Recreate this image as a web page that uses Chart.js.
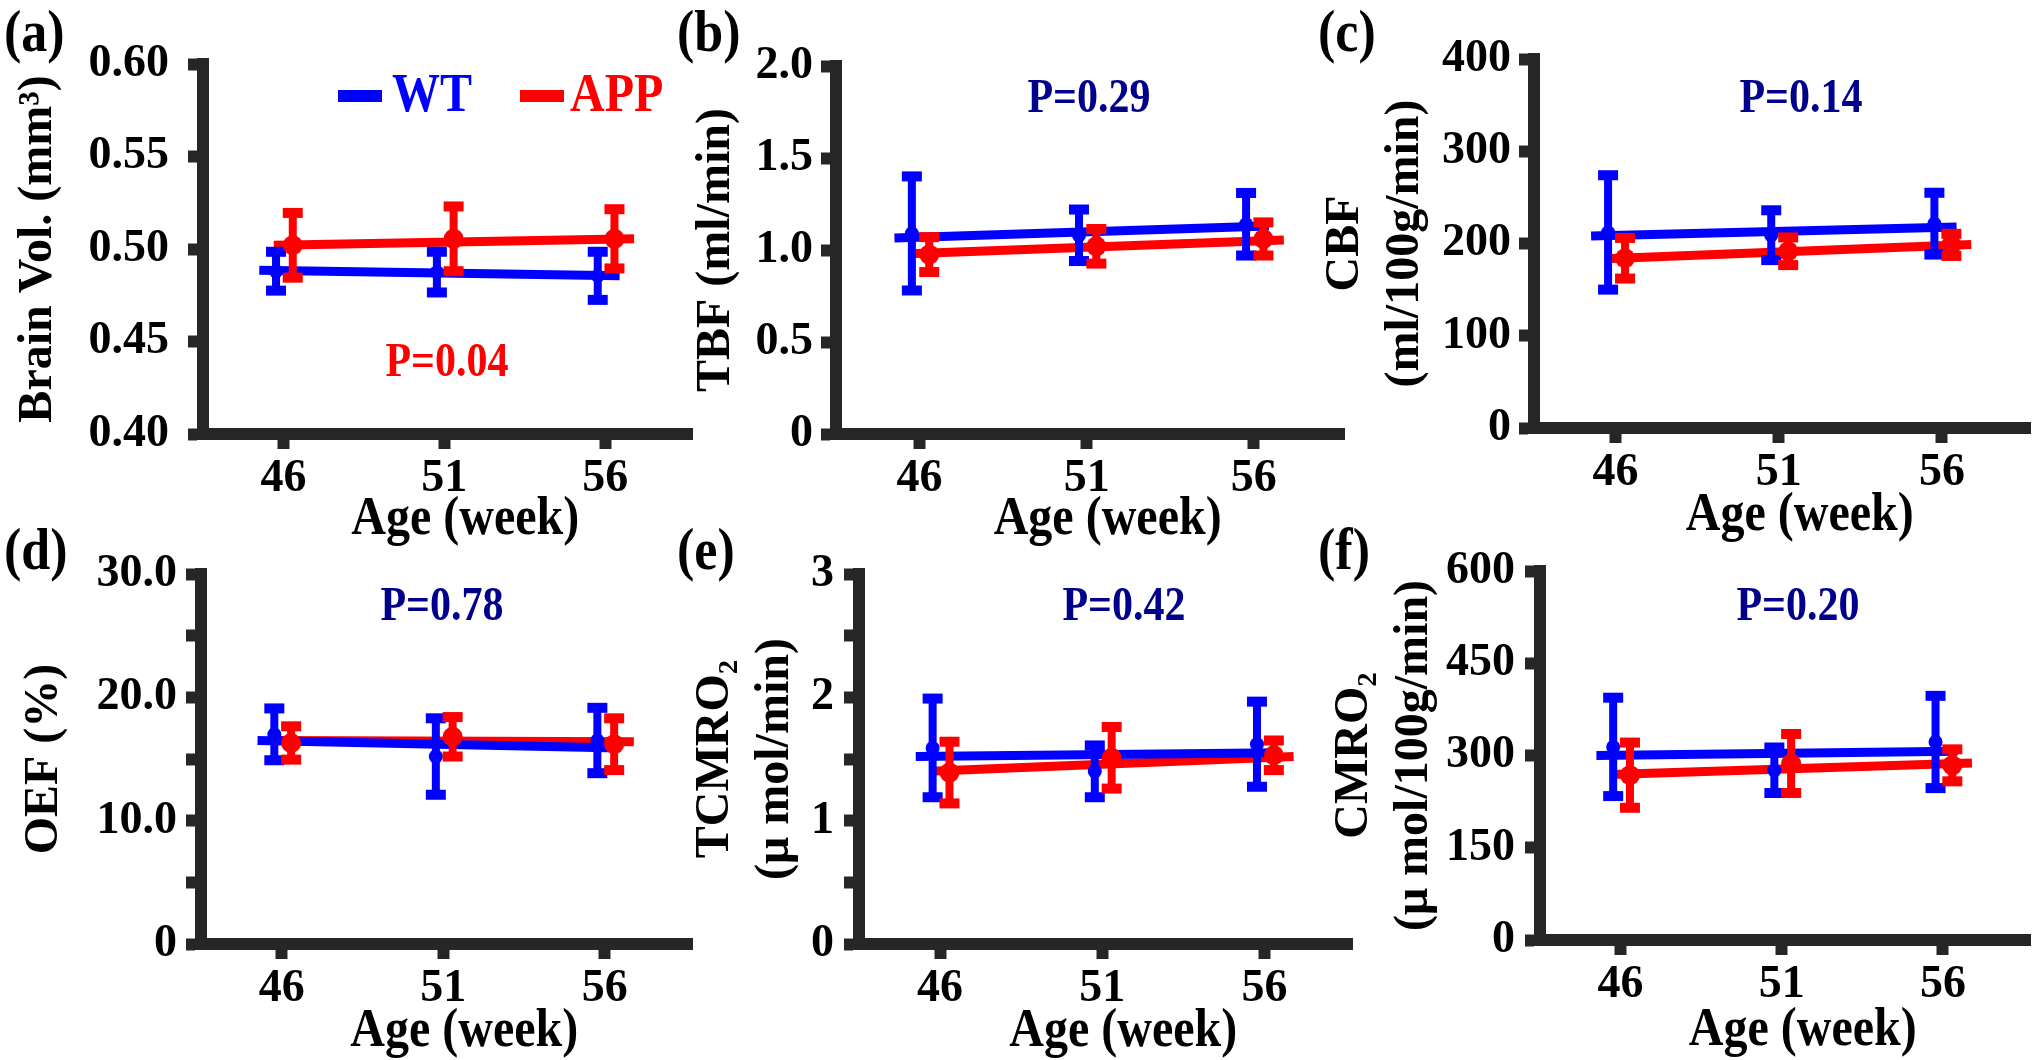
<!DOCTYPE html>
<html>
<head>
<meta charset="utf-8">
<script src="https://cdn.jsdelivr.net/npm/chart.js@4.4.1/dist/chart.umd.min.js"></script>
<style>
body{margin:0;background:#fff}
#wrap{position:relative;width:2040px;height:1060px;overflow:hidden;background:#fff}
canvas{position:absolute}
</style>
</head>
<body>
<div id="wrap"></div>
<script>
// ages (week) and the small shift used for each group
var ageTicks = [46, 51, 56]
var wtAge = [45.77, 50.77, 55.77]
var appAge = [46.29, 51.29, 56.29]
var wtFitAge = [45.25, 56.45]
var appFitAge = [45.7, 56.9]

// (a) brain volume
var volWT = [0.488, 0.4875, 0.4855]
var volWTsd = [0.0105, 0.011, 0.013]
var volAPP = [0.502, 0.5055, 0.5055]
var volAPPsd = [0.0175, 0.0175, 0.016]
var volWTfit = [0.4885, 0.4855]
var volAPPfit = [0.502, 0.5055]
var volTicks = [0.40, 0.45, 0.50, 0.55, 0.60]
var volLabels = ["0.40", "0.45", "0.50", "0.55", "0.60"]

// (b) TBF
var tbfWT = [1.09, 1.08, 1.14]
var tbfWTsd = [0.31, 0.14, 0.17]
var tbfAPP = [0.975, 1.02, 1.06]
var tbfAPPsd = [0.095, 0.094, 0.09]
var tbfWTfit = [1.065, 1.13]
var tbfAPPfit = [0.98, 1.055]
var tbfTicks = [0, 0.5, 1, 1.5, 2]
var tbfLabels = ["0", "0.5", "1.0", "1.5", "2.0"]

// (c) CBF
var cbfWT = [212, 209, 221.5]
var cbfWTsd = [62, 27, 33.5]
var cbfAPP = [184, 191.6, 198.5]
var cbfAPPsd = [22, 15, 12]
var cbfWTfit = [208, 218]
var cbfAPPfit = [183.5, 199]
var cbfTicks = [0, 100, 200, 300, 400]
var cbfLabels = ["0", "100", "200", "300", "400"]

// (d) OEF
var oefWT = [17.0, 15.2, 16.5]
var oefWTsd = [2.1, 3.1, 2.65]
var oefAPP = [16.3, 16.8, 16.2]
var oefAPPsd = [1.35, 1.6, 2.1]
var oefWTfit = [16.5, 15.9]
var oefAPPfit = [16.5, 16.4]
var oefTicks = [0, 5, 10, 15, 20, 25, 30]
var oefLabels = ["0", "", "10.0", "", "20.0", "", "30.0"]

// (e) TCMRO2
var tcmWT = [1.59, 1.40, 1.62]
var tcmWTsd = [0.40, 0.21, 0.345]
var tcmAPP = [1.39, 1.51, 1.53]
var tcmAPPsd = [0.25, 0.25, 0.12]
var tcmWTfit = [1.52, 1.55]
var tcmAPPfit = [1.40, 1.52]
var tcmTicks = [0, 0.5, 1, 1.5, 2, 2.5, 3]
var tcmLabels = ["0", "", "1", "", "2", "", "3"]

// (f) CMRO2
var cmrWT = [314, 276, 322]
var cmrWTsd = [80, 37, 75]
var cmrAPP = [268, 287, 284]
var cmrAPPsd = [53, 48, 26]
var cmrWTfit = [300, 307]
var cmrAPPfit = [269, 288]
var cmrTicks = [0, 150, 300, 450, 600]
var cmrLabels = ["0", "150", "300", "450", "600"]

var BLUE = "#0000ff"
var RED = "#ff0000"
var NAVY = "#00008c"
var AXE = "#262626"
var SERIF = "'Liberation Serif', 'Times New Roman', serif"

function pts(xs, ys){
	var out = []
	for(var i=0;i<xs.length;i++){
		out.push({x: xs[i], y: ys[i]})
	}
	return out
}

// text a bit taller than wide, like the original figure
function tallText(ctx, txt, x, y){
	ctx.save()
	ctx.translate(x, y)
	ctx.scale(1, 1.15)
	ctx.fillText(txt, 0, 0)
	ctx.restore()
}

var extras = {
	id: "extras",
	beforeDatasetDraw: function(chart, args){
		var ds = chart.data.datasets[args.index]
		if(!ds.errors) return
		var ctx = chart.ctx
		var x = chart.scales.x, y = chart.scales.y
		ctx.save()
		ctx.fillStyle = ds.borderColor
		for(var i=0;i<ds.data.length;i++){
			var px = x.getPixelForValue(ds.data[i].x)
			var top = y.getPixelForValue(ds.data[i].y + ds.errors[i])
			var bot = y.getPixelForValue(ds.data[i].y - ds.errors[i])
			ctx.fillRect(px - 4, top, 8, bot - top)
			ctx.fillRect(px - 10, top - 5, 20, 10)
			ctx.fillRect(px - 10, bot - 5, 20, 10)
		}
		ctx.restore()
	},
	afterDraw: function(chart){
		var o = chart.options.plugins.extras
		var ctx = chart.ctx
		var ox = o.cx, oy = o.cy
		ctx.save()
		ctx.textBaseline = "middle"
		// panel letter
		ctx.fillStyle = "#000"
		ctx.textAlign = "left"
		ctx.font = "bold 52px " + SERIF
		tallText(ctx, o.letter, o.letterAt[0] - ox, o.letterAt[1] - oy)
		// x axis title
		ctx.textAlign = "center"
		ctx.font = "bold 48px " + SERIF
		tallText(ctx, "Age (week)", chart.scales.x.getPixelForValue(51) + 21, o.xTitleY - oy)
		// p value
		ctx.fillStyle = o.pColor
		ctx.font = "bold 42px " + SERIF
		tallText(ctx, o.p, o.pAt[0] - ox, o.pAt[1] - oy)
		// legend
		if(o.legend){
			ctx.textAlign = "left"
			ctx.font = "bold 48px " + SERIF
			ctx.fillStyle = BLUE
			ctx.fillRect(338 - ox, 90 - oy, 44, 12)
			tallText(ctx, "WT", 392 - ox, 97 - oy)
			ctx.fillStyle = RED
			ctx.fillRect(520 - ox, 90 - oy, 44, 12)
			tallText(ctx, "APP", 570 - ox, 97 - oy)
		}
		ctx.restore()
	}
}

function panel(g){
	var cv = document.createElement("canvas")
	cv.width = g.cw
	cv.height = g.ch
	cv.style.left = g.cx + "px"
	cv.style.top = g.cy + "px"
	document.getElementById("wrap").appendChild(cv)
	var tickFont = {family: SERIF, size: 46, weight: "bold"}
	var xH = 80
	new Chart(cv, {
		type: "scatter",
		data: {datasets: [
			{label: "APP fit", data: pts(appFitAge, g.appFit), showLine: true, borderColor: RED, borderWidth: 9, pointRadius: 0, order: 4},
			{label: "WT fit", data: pts(wtFitAge, g.wtFit), showLine: true, borderColor: BLUE, borderWidth: 9, pointRadius: 0, order: 3},
			{label: "WT", data: pts(wtAge, g.wt), errors: g.wtSd, backgroundColor: BLUE, borderColor: BLUE, borderWidth: 0, pointRadius: 7, order: 2},
			{label: "APP", data: pts(appAge, g.app), errors: g.appSd, backgroundColor: RED, borderColor: RED, borderWidth: 0, pointRadius: 10, order: 1}
		]},
		options: {
			responsive: false,
			animation: false,
			layout: {padding: {left: 0, top: g.T - g.cy, right: g.cx + g.cw - g.R, bottom: g.cy + g.ch - g.B - xH}},
			plugins: {
				legend: {display: false},
				tooltip: {enabled: false},
				extras: {cx: g.cx, cy: g.cy, letter: g.letter, letterAt: g.letterAt, p: g.p, pColor: g.pColor, pAt: g.pAt, xTitleY: g.xTitleY, legend: g.legend}
			},
			scales: {
				x: {
					type: "linear", min: 43.5, max: 58.7,
					afterBuildTicks: function(s){ s.ticks = ageTicks.map(function(v){ return {value: v} }) },
					afterFit: function(s){ s.height = xH },
					border: {display: true, width: 12, color: AXE},
					grid: {display: true, drawOnChartArea: false, drawTicks: true, tickLength: 15, tickWidth: 12, tickColor: AXE},
					ticks: {font: tickFont, color: "#000", padding: 3, maxRotation: 0, autoSkip: false, callback: function(v){ return String(v) }}
				},
				y: {
					type: "linear", min: g.ticks[0], max: g.ticks[g.ticks.length - 1],
					afterBuildTicks: function(s){ s.ticks = g.ticks.map(function(v){ return {value: v} }) },
					afterFit: function(s){ s.width = g.L - g.cx },
					border: {display: true, width: 12, color: AXE},
					grid: {display: true, drawOnChartArea: false, drawTicks: true, tickLength: 15, tickWidth: 12, tickColor: AXE},
					ticks: {font: tickFont, color: "#000", padding: g.tickPad, autoSkip: false, callback: function(v){ return g.labels[g.ticks.indexOf(v)] }},
					title: {display: true, text: g.title, color: "#000", font: {family: SERIF, size: 48, weight: "bold", lineHeight: 1.25}, padding: {top: g.titlePad, bottom: 0}}
				}
			}
		},
		plugins: [extras]
	})
}

panel({cx: 0, cy: 0, cw: 720, ch: 560, L: 203, R: 692, T: 64, B: 434,
	wt: volWT, wtSd: volWTsd, app: volAPP, appSd: volAPPsd, wtFit: volWTfit, appFit: volAPPfit,
	ticks: volTicks, labels: volLabels, tickPad: 19, title: "Brain Vol. (mm³)", titlePad: 9,
	letter: "(a)", letterAt: [4, 36], p: "P=0.04", pColor: RED, pAt: [447, 364], xTitleY: 520, legend: true})

panel({cx: 660, cy: 0, cw: 720, ch: 560, L: 836, R: 1344, T: 66, B: 434,
	wt: tbfWT, wtSd: tbfWTsd, app: tbfAPP, appSd: tbfAPPsd, wtFit: tbfWTfit, appFit: tbfAPPfit,
	ticks: tbfTicks, labels: tbfLabels, tickPad: 8, title: "TBF (ml/min)", titlePad: 27,
	letter: "(b)", letterAt: [677, 36], p: "P=0.29", pColor: NAVY, pAt: [1089, 100], xTitleY: 520})

panel({cx: 1300, cy: 0, cw: 740, ch: 560, L: 1534, R: 2034, T: 59, B: 428,
	wt: cbfWT, wtSd: cbfWTsd, app: cbfAPP, appSd: cbfAPPsd, wtFit: cbfWTfit, appFit: cbfAPPfit,
	ticks: cbfTicks, labels: cbfLabels, tickPad: 8, title: ["CBF", "(ml/100g/min)"], titlePad: 16,
	letter: "(c)", letterAt: [1318, 36], p: "P=0.14", pColor: NAVY, pAt: [1801, 100], xTitleY: 516})

panel({cx: 0, cy: 520, cw: 720, ch: 540, L: 201, R: 692, T: 574, B: 944,
	wt: oefWT, wtSd: oefWTsd, app: oefAPP, appSd: oefAPPsd, wtFit: oefWTfit, appFit: oefAPPfit,
	ticks: oefTicks, labels: oefLabels, tickPad: 9, title: "OEF (%)", titlePad: 15,
	letter: "(d)", letterAt: [4, 554], p: "P=0.78", pColor: NAVY, pAt: [442, 608], xTitleY: 1032})

panel({cx: 660, cy: 520, cw: 720, ch: 540, L: 859, R: 1352, T: 574, B: 944,
	wt: tcmWT, wtSd: tcmWTsd, app: tcmAPP, appSd: tcmAPPsd, wtFit: tcmWTfit, appFit: tcmAPPfit,
	ticks: tcmTicks, labels: tcmLabels, tickPad: 10, title: ["TCMRO₂", "(μ mol/min)"], titlePad: 26,
	letter: "(e)", letterAt: [677, 554], p: "P=0.42", pColor: NAVY, pAt: [1124, 608], xTitleY: 1032})

panel({cx: 1300, cy: 520, cw: 740, ch: 540, L: 1540, R: 2034, T: 571, B: 940,
	wt: cmrWT, wtSd: cmrWTsd, app: cmrAPP, appSd: cmrAPPsd, wtFit: cmrWTfit, appFit: cmrAPPfit,
	ticks: cmrTicks, labels: cmrLabels, tickPad: 10, title: ["CMRO₂", "(μ mol/100g/min)"], titlePad: 25,
	letter: "(f)", letterAt: [1318, 554], p: "P=0.20", pColor: NAVY, pAt: [1798, 608], xTitleY: 1031})
</script>
</body>
</html>
